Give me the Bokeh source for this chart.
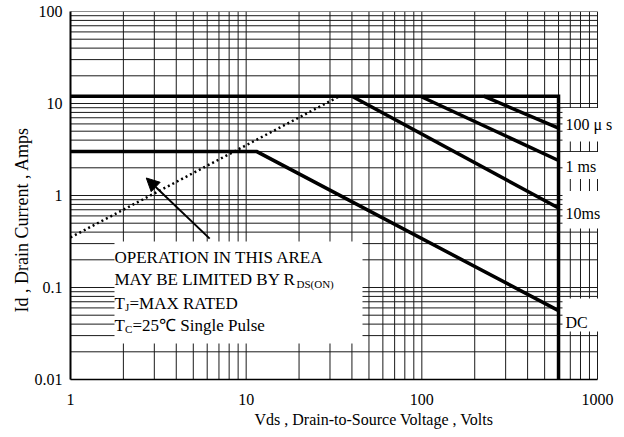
import math
from bokeh.plotting import figure
from bokeh.models import FixedTicker, Label, Arrow, NormalHead, ColumnDataSource, Title
from bokeh.embed import file_html
from bokeh.resources import INLINE

# ---------------- data ----------------
x_major = [1, 10, 100, 1000]
x_labels = ["1", "10", "100", "1000"]
y_major = [0.01, 0.1, 1, 10, 100]
y_labels = ["0.01", "0.1", "1", "10", "100"]

# current limit (12 A) and max voltage (600 V) envelope
env_v = [1, 600, 600]
env_i = [12, 12, 0.01]
# DC curve
dc_v = [1, 11.5, 600]
dc_i = [3, 3, 0.056]
# pulse curves
ms10_v = [40, 600]
ms10_i = [12, 0.73]
ms1_v = [98, 600]
ms1_i = [12, 2.4]
us100_v = [225, 600]
us100_i = [12, 5.4]
# RDS(on) limit line
rds_v = [1, 34]
rds_i = [0.35, 12]
# arrow pointing into the limited area
arrow_tail = (6.2, 0.34)
arrow_tip = (2.7, 1.55)

# minor grid positions (2..9 of every decade)
x_minor = [m * k for m in x_major[:-1] for k in range(2, 10)]
y_minor = [round(m * k, 4) for m in y_major[:-1] for k in range(2, 10)]

# ---------------- layout ----------------
W, H = 624, 437
FL, FT = 70, 11           # frame left / top (px)
DEC_X, DEC_Y = 175.67, 92.0
FRAME_W = W - FL
FRAME_H = 4 * DEC_Y
x_end = 10 ** (FRAME_W / DEC_X)   # frame extends right of 1000 for side labels

p = figure(width=W, height=H, x_axis_type="log", y_axis_type="log",
           x_range=(1, x_end), y_range=(0.01, 100),
           output_backend="svg", toolbar_location=None,
           min_border_left=FL, min_border_right=0,
           min_border_top=FT, min_border_bottom=int(H - FT - FRAME_H))
p.outline_line_color = None
p.background_fill_color = "white"
p.border_fill_color = "white"
p.xgrid.visible = False
p.ygrid.visible = False

xt = FixedTicker(ticks=x_major, minor_ticks=x_minor)
yt = FixedTicker(ticks=y_major, minor_ticks=y_minor)
p.xaxis.ticker = xt
p.yaxis.ticker = yt

SERIF = "Liberation Serif"
for ax in (p.xaxis[0], p.yaxis[0]):
    ax.major_tick_line_color = None
    ax.minor_tick_line_color = None
    ax.major_tick_out = 0
    ax.major_tick_in = 0
    ax.minor_tick_out = 0
    ax.minor_tick_in = 0
    ax.axis_line_color = "black"
    ax.major_label_text_font = SERIF
    ax.major_label_text_font_size = "16px"
    ax.major_label_text_color = "black"
p.xaxis.bounds = (1, 1000)
p.xaxis.axis_line_width = 1.5
p.yaxis.axis_line_width = 2
p.xaxis.major_label_standoff = 14
p.yaxis.major_label_standoff = 8
p.xaxis.major_label_overrides = dict(zip(x_major, x_labels))
p.yaxis.major_label_overrides = dict(zip(y_major, y_labels))

# ---------------- grid (drawn from the tick lists, limited to 1..1000) -------
xs_all = x_major + x_minor
ys_all = y_major + y_minor
p.segment(x0=xs_all, x1=xs_all, y0=[0.01] * len(xs_all), y1=[100] * len(xs_all),
          line_color="#1a1a1a", line_width=1)
p.segment(x0=[1] * len(ys_all), x1=[1000] * len(ys_all), y0=ys_all, y1=ys_all,
          line_color="#1a1a1a", line_width=1)


# reference pixel -> data helpers (layout only)
def px_x(px):
    return 10 ** ((px - FL) / DEC_X)


def py_y(py):
    return 10 ** (2 - (py - FT) / DEC_Y)


# white masks behind the text blocks
boxes = [(114, 362, 241, 343), (562, 624, 107.5, 141), (562, 624, 151.5, 178.5),
         (562, 624, 190.5, 228), (562, 624, 298, 331)]
mask = ColumnDataSource(dict(
    left=[px_x(b[0]) for b in boxes], right=[px_x(b[1]) for b in boxes],
    top=[py_y(b[2]) for b in boxes], bottom=[py_y(b[3]) for b in boxes]))
p.quad(left="left", right="right", top="top", bottom="bottom", source=mask,
       fill_color="white", line_color=None)

# curves
LW = 3.5
p.line(env_v, env_i, line_width=LW, color="black", line_join="miter")
p.line(dc_v, dc_i, line_width=LW, color="black", line_join="miter")
p.line(ms10_v, ms10_i, line_width=LW, color="black")
p.line(ms1_v, ms1_i, line_width=LW, color="black")
p.line(us100_v, us100_i, line_width=LW, color="black")
p.line(rds_v, rds_i, line_width=2.5, color="black", line_dash="2 3")

p.add_layout(Arrow(x_start=arrow_tail[0], y_start=arrow_tail[1],
                   x_end=arrow_tip[0], y_end=arrow_tip[1], line_width=2,
                   line_color="black",
                   end=NormalHead(size=13, fill_color="black", line_color="black",
                                  line_width=1)))

# texts (pixel positions)
texts = [
    ("OPERATION IN THIS AREA", 114, 257, "17px"),
    ("MAY BE LIMITED BY R", 114, 279.3, "17px"),
    ("DS(ON)", 296, 283, "11px"),
    ("T", 114, 302.7, "17px"),
    ("J", 124.5, 306, "11px"),
    ("=MAX RATED", 129, 302.7, "17px"),
    ("T", 114, 325, "17px"),
    ("C", 124.5, 328.5, "11px"),
    ("=25℃  Single Pulse", 132, 325, "17px"),
]
for t, x, y, fs in texts:
    p.add_layout(Label(x=px_x(x), y=py_y(y), text=t, text_font=SERIF,
                       text_font_size=fs, text_align="left",
                       text_baseline="alphabetic", text_color="black"))

side = [("100 μ s", 124), ("1 ms", 166), ("10ms", 213), ("DC", 322)]
for t, y in side:
    p.add_layout(Label(x=px_x(565), y=py_y(y), text=t, text_font=SERIF,
                       text_font_size="16px", text_align="left",
                       text_baseline="middle", text_color="black"))

# axis titles
p.add_layout(Title(text="Vds , Drain-to-Source Voltage , Volts", align="left",
                   offset=184, vertical_align="top", text_font=SERIF,
                   text_font_size="16px", text_font_style="normal",
                   text_color="black", standoff=6), "below")
p.add_layout(Title(text="Id , Drain Current , Amps", align="left",
                   offset=(FT + FRAME_H) - 312,
                   text_font=SERIF, text_font_size="18px",
                   text_font_style="normal", text_color="black", standoff=0), "left")

open("out.html", "w").write(file_html(p, INLINE))
